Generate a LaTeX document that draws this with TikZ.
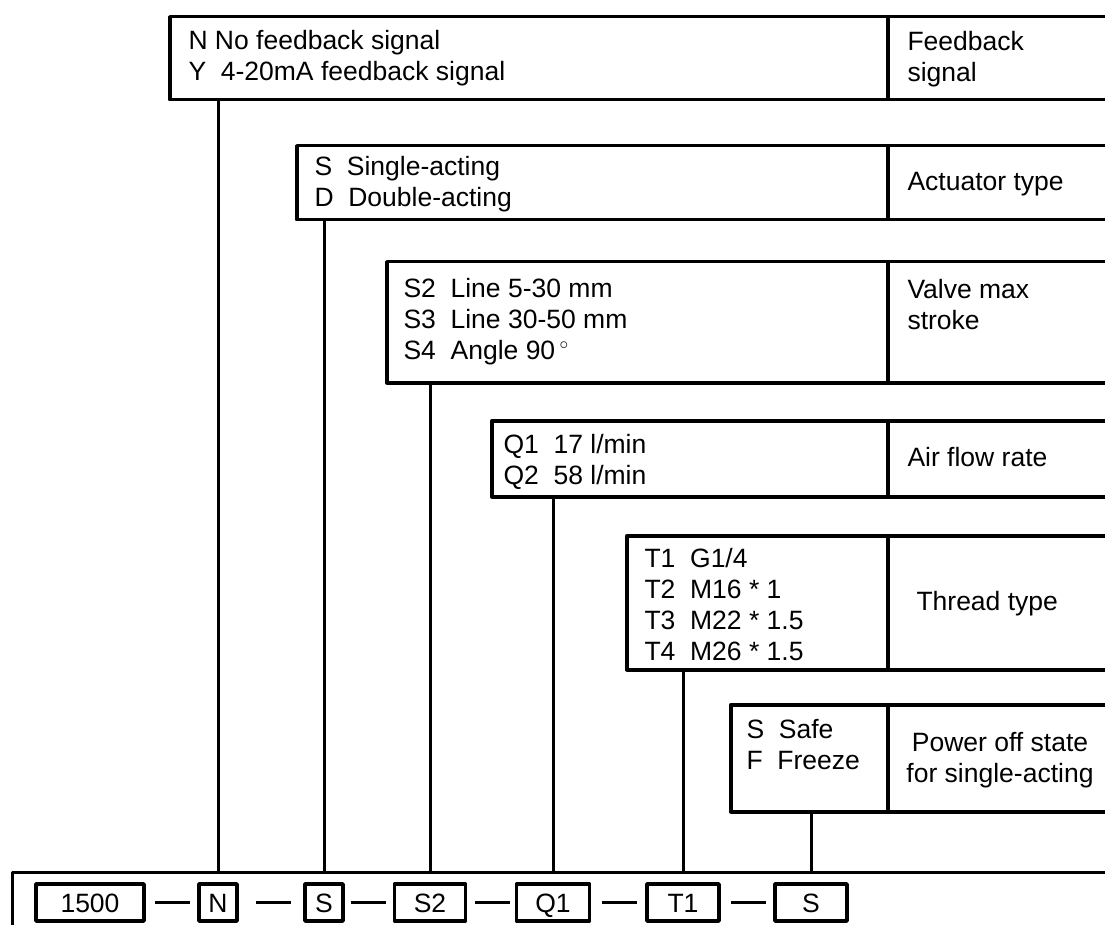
\documentclass[tikz,border=0pt]{standalone}
\usepackage{fontspec}
\setmainfont{Liberation Sans}
\begin{document}
\begin{tikzpicture}[x=1pt, y=-1pt, line join=round, line width=3pt,
		font=\fontsize{26.5}{31}\selectfont,
		optbox/.style={draw, line width=3.5pt, anchor=north west, inner sep=0pt, minimum height=#1},
		codebox/.style={draw, line width=3.5pt, inner sep=0pt, text height=19pt, text depth=0pt, minimum height=37, minimum width=#1},
		txt/.style={anchor=base west, inner sep=0pt, align=left}]
	\useasboundingbox (0,0) rectangle (1105,925);
	\clip (0,0) rectangle (1105,925);
	\coordinate (div) at (888,0);
	\coordinate (bus) at (12,872);
	\coordinate (busR) at (1125,872);
	\coordinate (busE) at (12,930);
	% option rows
	\node[optbox=83, minimum width=957] (fb) at (168,15) {};
	\node[optbox=74, minimum width=830] (act) at (295,144) {};
	\node[optbox=121, minimum width=740] (stroke) at (385,260) {};
	\node[optbox=76, minimum width=635] (flow) at (490,419) {};
	\node[optbox=134, minimum width=500] (thread) at (625,534) {};
	\node[optbox=107, minimum width=396] (power) at (729,703) {};
	\foreach \r in {fb, act, stroke, flow, thread, power}
	\draw[line width=3.5pt] (\r.north -| div) -- (\r.south -| div);
	% option texts (base = last line)
	\node[txt] (fbOpt) at (187,81) {N No feedback signal\\Y\ \ 4-20mA feedback signal};
	\node[txt] (actOpt) at (313,207) {S\ \ Single-acting\\D\ \ Double-acting};
	\node[txt] (strokeOpt) at (402,359) {S2\ \ Line 5-30 mm\\S3\ \ Line 30-50 mm\\S4\ \ Angle 90\,$^\circ$};
	\node[txt] (flowOpt) at (502,484) {Q1\ \ 17 l/min\\Q2\ \ 58 l/min};
	\node[txt] (threadOpt) at (643,660) {T1\ \ G1/4\\T2\ \ M16 * 1\\T3\ \ M22 * 1.5\\T4\ \ M26 * 1.5};
	\node[txt] (powerOpt) at (745,769) {S\ \ Safe\\F\ \ Freeze};
	% labels
	\node[txt] (fbLbl) at (906,82) {Feedback\\signal};
	\node[txt] (actLbl) at (906,191) {Actuator type};
	\node[txt] (strokeLbl) at (906,329) {Valve max\\stroke};
	\node[txt] (flowLbl) at (906,466) {Air flow rate};
	\node[txt] (threadLbl) at (915,610) {Thread type};
	\node[txt, anchor=base, align=center] (powerLbl) at (1000,782) {Power off state\\for single-acting};
	% code line
	\draw (busE) -- (bus) -- (busR);
	\node[codebox=108] (c1) at (90,902.5) {1500};
	\node[codebox=38] (cN) at (218,902.5) {N};
	\node[codebox=38] (cS) at (324,902.5) {S};
	\node[codebox=71] (cSt) at (430,902.5) {S2};
	\node[codebox=73] (cQ) at (553,902.5) {Q1};
	\node[codebox=72] (cT) at (683,902.5) {T1};
	\node[codebox=72] (cP) at (811,902.5) {S};
	\foreach \a/\s in {c1/9, cN/17, cS/6, cSt/8, cQ/11, cT/10}
	\draw ([xshift=\s]\a.east) -- ++(35,0);
	\foreach \r/\c in {fb/cN, act/cS, stroke/cSt, flow/cQ, thread/cT, power/cP}
	\draw (\r.south -| \c.north) -- (\c.north |- bus);
\end{tikzpicture}
\end{document}
